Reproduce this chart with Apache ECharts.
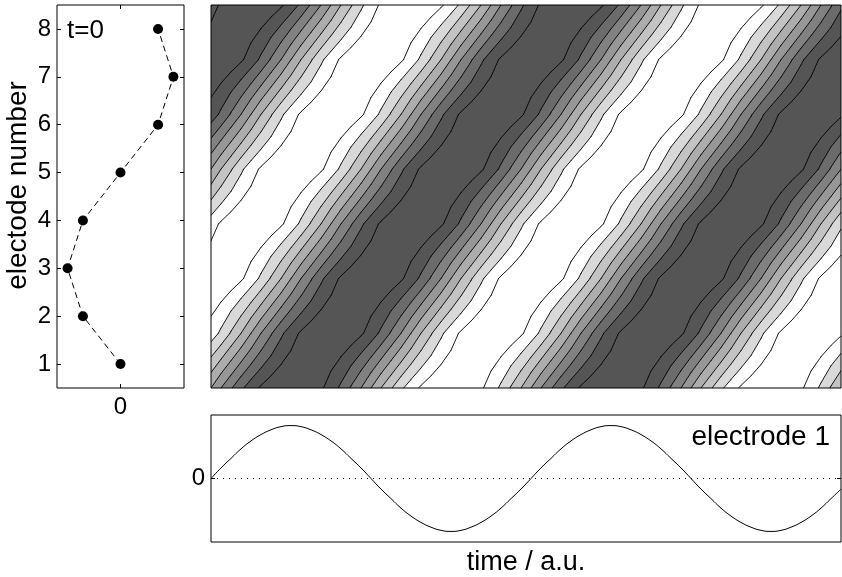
<!DOCTYPE html>
<html>
<head>
<meta charset="utf-8">
<script src="https://cdn.jsdelivr.net/npm/echarts@6/dist/echarts.min.js"></script>
<style>
  html, body { margin: 0; padding: 0; background: #ffffff; }
  #chart { width: 842px; height: 577px; }
</style>
</head>
<body>
<div id="chart"></div>
<script>
// Electrode numbers and the potential at each electrode in the t=0 snapshot
const electrodes = [1, 2, 3, 4, 5, 6, 7, 8];
const snapshotT0 = [0, -0.71, -1, -0.71, 0, 0.71, 1, 0.71];

// One period of the electrode-1 trace, one sample every half time unit
const sampleStep = 0.5;
const tracePeriod = [
  0, 0.2, 0.38, 0.56, 0.71, 0.83, 0.92, 0.98,
  1, 0.98, 0.92, 0.83, 0.71, 0.56, 0.38, 0.2,
  0, -0.2, -0.38, -0.56, -0.71, -0.83, -0.92, -0.98,
  -1, -0.98, -0.92, -0.83, -0.71, -0.56, -0.38, -0.2
];
// Delay of each electrode behind electrode 1, in samples
const electrodeLag = [0, 4, 8, 12, 16, 20, 24, 28];
// Number of recorded samples (time 0 .. 31.5)
const sampleCount = 64;

// Contour levels and the grey used for each band (lowest band first)
const contourLevels = [-0.8, -0.6, -0.4, -0.2, 0, 0.2, 0.4, 0.6, 0.8];
const bandColors = ['#ffffff', '#ffffff', '#d9d9d9', '#c3c3c3', '#adadad',
                    '#979797', '#818181', '#6b6b6b', '#555555', '#555555'];

// Tick values
const zeroTick = [0];

const FONT = '"Liberation Sans", Arial, Helvetica, sans-serif';
const P = tracePeriod.length;
const tMax = (sampleCount - 1) * sampleStep;

function electrodeValue(i, k) {
  return tracePeriod[((k - electrodeLag[i]) % P + P) % P];
}

// Pixel position and value of every sample on every electrode
function gridNodes(api) {
  return electrodes.map(function (n, i) {
    const row = [];
    for (let k = 0; k < sampleCount; k++) {
      const p = api.coord([k * sampleStep, n]);
      row.push({ x: p[0], y: p[1], v: electrodeValue(i, k) });
    }
    return row;
  });
}

function cellCorners(nodes, r, k) {
  return [nodes[r][k], nodes[r][k + 1], nodes[r + 1][k + 1], nodes[r + 1][k]];
}

function fmt(x, y) { return x.toFixed(2) + ' ' + y.toFixed(2); }

// Region where the field is at or above a level, cell by cell, as one path
function superlevelPath(nodes, L) {
  let d = '';
  for (let r = 0; r < nodes.length - 1; r++) {
    for (let k = 0; k < sampleCount - 1; k++) {
      const q = cellCorners(nodes, r, k);
      const pts = [];
      for (let i = 0; i < 4; i++) {
        const a = q[i], b = q[(i + 1) % 4];
        const ina = a.v >= L, inb = b.v >= L;
        if (ina) pts.push(fmt(a.x, a.y));
        if (ina !== inb) {
          const f = (L - a.v) / (b.v - a.v);
          pts.push(fmt(a.x + f * (b.x - a.x), a.y + f * (b.y - a.y)));
        }
      }
      if (pts.length >= 3) d += 'M ' + pts.join(' L ') + ' Z ';
    }
  }
  return d;
}

// Contour segments of one level, linear along every cell edge
function contourPath(nodes, L) {
  let d = '';
  for (let r = 0; r < nodes.length - 1; r++) {
    for (let k = 0; k < sampleCount - 1; k++) {
      const q = cellCorners(nodes, r, k);
      const cross = [];
      for (let i = 0; i < 4; i++) {
        const a = q[i], b = q[(i + 1) % 4];
        if ((a.v >= L) !== (b.v >= L)) {
          const f = (L - a.v) / (b.v - a.v);
          cross.push(fmt(a.x + f * (b.x - a.x), a.y + f * (b.y - a.y)));
        }
      }
      for (let j = 0; j + 1 < cross.length; j += 2) {
        d += 'M ' + cross[j] + ' L ' + cross[j + 1] + ' ';
      }
    }
  }
  return d;
}

const trace = [];
for (let k = 0; k < sampleCount; k++) {
  trace.push([k * sampleStep, tracePeriod[k % P]]);
}

const snapshot = electrodes.map((n, i) => [snapshotT0[i], n]);

const tickLabel = { fontFamily: FONT, fontSize: 24, color: '#000' };
const noLine = { show: false, onZero: false };
const hidden = { show: false };
const tickStyle = { color: '#000', width: 1 };

const option = {
  animation: false,
  backgroundColor: '#ffffff',
  grid: [
    { left: 57, top: 5, width: 127, height: 383, show: true, z: 10,
      borderColor: '#000', borderWidth: 1, backgroundColor: 'transparent' },
    { left: 211, top: 5, width: 630, height: 383, show: true, z: 10,
      borderColor: '#000', borderWidth: 1, backgroundColor: 'transparent' },
    { left: 211, top: 415, width: 630, height: 127, show: true, z: 10,
      borderColor: '#000', borderWidth: 1, backgroundColor: 'transparent' }
  ],
  xAxis: [
    { gridIndex: 0, type: 'value', min: -1.2, max: 1.2, position: 'bottom', z: 10,
      axisLine: noLine, splitLine: hidden,
      axisTick: { inside: true, length: 4, customValues: zeroTick, lineStyle: tickStyle },
      axisLabel: Object.assign({ margin: 7, customValues: zeroTick }, tickLabel) },
    { gridIndex: 0, type: 'value', min: -1.2, max: 1.2, position: 'top', z: 10,
      axisLine: noLine, splitLine: hidden, axisLabel: hidden,
      axisTick: { inside: true, length: 4, customValues: zeroTick, lineStyle: tickStyle } },
    { gridIndex: 1, type: 'value', min: 0, max: tMax,
      axisLine: noLine, splitLine: hidden, axisTick: hidden, axisLabel: hidden },
    { gridIndex: 2, type: 'value', min: 0, max: tMax,
      axisLine: noLine, splitLine: hidden, axisTick: hidden, axisLabel: hidden,
      name: 'time / a.u.', nameLocation: 'middle', nameGap: 7,
      nameTextStyle: { fontFamily: FONT, fontSize: 27, color: '#000', verticalAlign: 'top' } }
  ],
  yAxis: [
    { gridIndex: 0, type: 'value', min: 0.5, max: 8.5, position: 'left', z: 10,
      axisLine: noLine, splitLine: hidden,
      axisTick: { inside: true, length: 4, customValues: electrodes, lineStyle: tickStyle },
      axisLabel: Object.assign({ margin: 6, customValues: electrodes }, tickLabel),
      name: 'electode number', nameLocation: 'middle', nameRotate: 90, nameGap: 25,
      nameTextStyle: { fontFamily: FONT, fontSize: 28, color: '#000', padding: [0, 0, 0, 22] } },
    { gridIndex: 0, type: 'value', min: 0.5, max: 8.5, position: 'right', z: 10,
      axisLine: noLine, splitLine: hidden, axisLabel: hidden,
      axisTick: { inside: true, length: 4, customValues: electrodes, lineStyle: tickStyle } },
    { gridIndex: 1, type: 'value', min: electrodes[0], max: electrodes[electrodes.length - 1],
      axisLine: noLine, splitLine: hidden, axisTick: hidden, axisLabel: hidden },
    { gridIndex: 2, type: 'value', min: -1.2, max: 1.2, position: 'left', z: 10,
      axisLine: noLine, splitLine: hidden,
      axisTick: { inside: true, length: 4, customValues: zeroTick, lineStyle: tickStyle },
      axisLabel: Object.assign({ margin: 6, customValues: zeroTick }, tickLabel) },
    { gridIndex: 2, type: 'value', min: -1.2, max: 1.2, position: 'right', z: 10,
      axisLine: noLine, splitLine: hidden, axisLabel: hidden,
      axisTick: { inside: true, length: 4, customValues: zeroTick, lineStyle: tickStyle } }
  ],
  graphic: [
    { type: 'text', x: 67, y: 31, z: 20,
      style: { text: 't=0', font: '26px ' + FONT, fill: '#000',
               align: 'left', textAlign: 'left', verticalAlign: 'middle', textVerticalAlign: 'middle' } },
    { type: 'text', x: 830, y: 437, z: 20,
      style: { text: 'electrode 1', font: '28px ' + FONT, fill: '#000',
               align: 'right', textAlign: 'right', verticalAlign: 'middle', textVerticalAlign: 'middle' } }
  ],
  series: [
    {
      name: 't=0 snapshot', type: 'line', xAxisIndex: 0, yAxisIndex: 0,
      data: snapshot,
      symbol: 'circle', symbolSize: 10,
      itemStyle: { color: '#000' },
      lineStyle: { color: '#000', width: 1, type: [6, 4] }
    },
    {
      name: 'bands', type: 'custom', xAxisIndex: 2, yAxisIndex: 2,
      coordinateSystem: 'cartesian2d', silent: true, clip: true,
      data: contourLevels.map((L, i) => [i, L]),
      renderItem: function (params, api) {
        const i = params.dataIndex;
        const d = superlevelPath(gridNodes(api), contourLevels[i]);
        if (!d) return { type: 'group', children: [] };
        return { type: 'path', shape: { pathData: d },
                 style: { fill: bandColors[i + 1], stroke: null } };
      }
    },
    {
      name: 'contours', type: 'custom', xAxisIndex: 2, yAxisIndex: 2,
      coordinateSystem: 'cartesian2d', silent: true, clip: true, z: 3,
      data: contourLevels.map((L, i) => [i, L]),
      renderItem: function (params, api) {
        const d = contourPath(gridNodes(api), contourLevels[params.dataIndex]);
        if (!d) return { type: 'group', children: [] };
        return { type: 'path', shape: { pathData: d },
                 style: { fill: null, stroke: '#000', lineWidth: 0.9,
                          lineCap: 'round', lineJoin: 'round' } };
      }
    },
    {
      name: 'electrode 1', type: 'line', xAxisIndex: 3, yAxisIndex: 3,
      data: trace, smooth: true, showSymbol: false, symbol: 'none',
      lineStyle: { color: '#000', width: 1 },
      markLine: {
        silent: true, symbol: ['none', 'none'], label: { show: false },
        lineStyle: { color: '#000', width: 1, type: [1, 5] },
        data: [{ yAxis: 0 }]
      }
    }
  ]
};

const chart = echarts.init(document.getElementById('chart'), null, { renderer: 'canvas' });
chart.setOption(option);
</script>
</body>
</html>
